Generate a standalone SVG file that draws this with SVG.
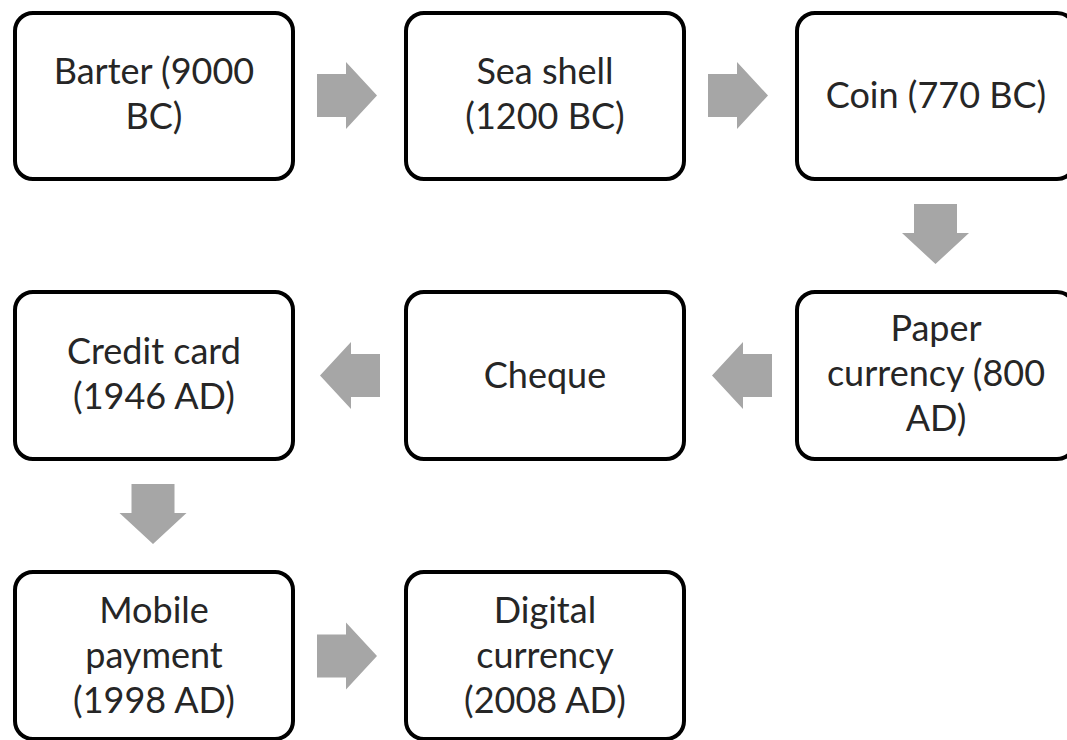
<svg xmlns="http://www.w3.org/2000/svg" width="1067" height="740" viewBox="0 0 1067 740">
  <style>
    .box { fill: #ffffff; stroke: #000000; stroke-width: 4; }
    .lbl { font-family: Lato, "Open Sans", "Liberation Sans", sans-serif; font-size: 36px; fill: #262626; text-anchor: middle; }
    .arrow { fill: #a6a6a6; }
  </style>
  <defs>
    <!-- block arrow pointing right, origin at the tail centre -->
    <path id="blockArrow" d="M0,-21.5 H29 V-33.5 L60,0 L29,33.5 V21.5 H0 Z"/>
  </defs>
  <rect width="1067" height="740" fill="#ffffff"/>

  <g id="connectors" class="arrow">
    <use href="#blockArrow" transform="translate(317,95.5)"/>
    <use href="#blockArrow" transform="translate(708,95.5)"/>
    <use href="#blockArrow" transform="translate(935.5,204) rotate(90)"/>
    <use href="#blockArrow" transform="translate(772,375.5) rotate(180)"/>
    <use href="#blockArrow" transform="translate(380,375.5) rotate(180)"/>
    <use href="#blockArrow" transform="translate(153,484) rotate(90)"/>
    <use href="#blockArrow" transform="translate(317,656)"/>
  </g>

  <g id="barter">
    <rect class="box" x="15" y="13" width="278" height="166" rx="18"/>
    <text class="lbl" x="154" y="84">Barter (9000</text>
    <text class="lbl" x="154" y="129">BC)</text>
  </g>
  <g id="sea-shell">
    <rect class="box" x="406" y="13" width="278" height="166" rx="18"/>
    <text class="lbl" x="545" y="84">Sea shell</text>
    <text class="lbl" x="545" y="129">(1200 BC)</text>
  </g>
  <g id="coin">
    <rect class="box" x="797" y="13" width="278" height="166" rx="18"/>
    <text class="lbl" x="936" y="108">Coin (770 BC)</text>
  </g>
  <g id="paper-currency">
    <rect class="box" x="797" y="292" width="278" height="167" rx="18"/>
    <text class="lbl" x="936" y="341">Paper</text>
    <text class="lbl" x="936" y="386">currency (800</text>
    <text class="lbl" x="936" y="431">AD)</text>
  </g>
  <g id="cheque">
    <rect class="box" x="406" y="292" width="278" height="167" rx="18"/>
    <text class="lbl" x="545" y="388">Cheque</text>
  </g>
  <g id="credit-card">
    <rect class="box" x="15" y="292" width="278" height="167" rx="18"/>
    <text class="lbl" x="154" y="364">Credit card</text>
    <text class="lbl" x="154" y="409">(1946 AD)</text>
  </g>
  <g id="mobile-payment">
    <rect class="box" x="15" y="572" width="278" height="167" rx="18"/>
    <text class="lbl" x="154" y="623">Mobile</text>
    <text class="lbl" x="154" y="668">payment</text>
    <text class="lbl" x="154" y="713">(1998 AD)</text>
  </g>
  <g id="digital-currency">
    <rect class="box" x="406" y="572" width="278" height="167" rx="18"/>
    <text class="lbl" x="545" y="623">Digital</text>
    <text class="lbl" x="545" y="668">currency</text>
    <text class="lbl" x="545" y="713">(2008 AD)</text>
  </g>
</svg>
